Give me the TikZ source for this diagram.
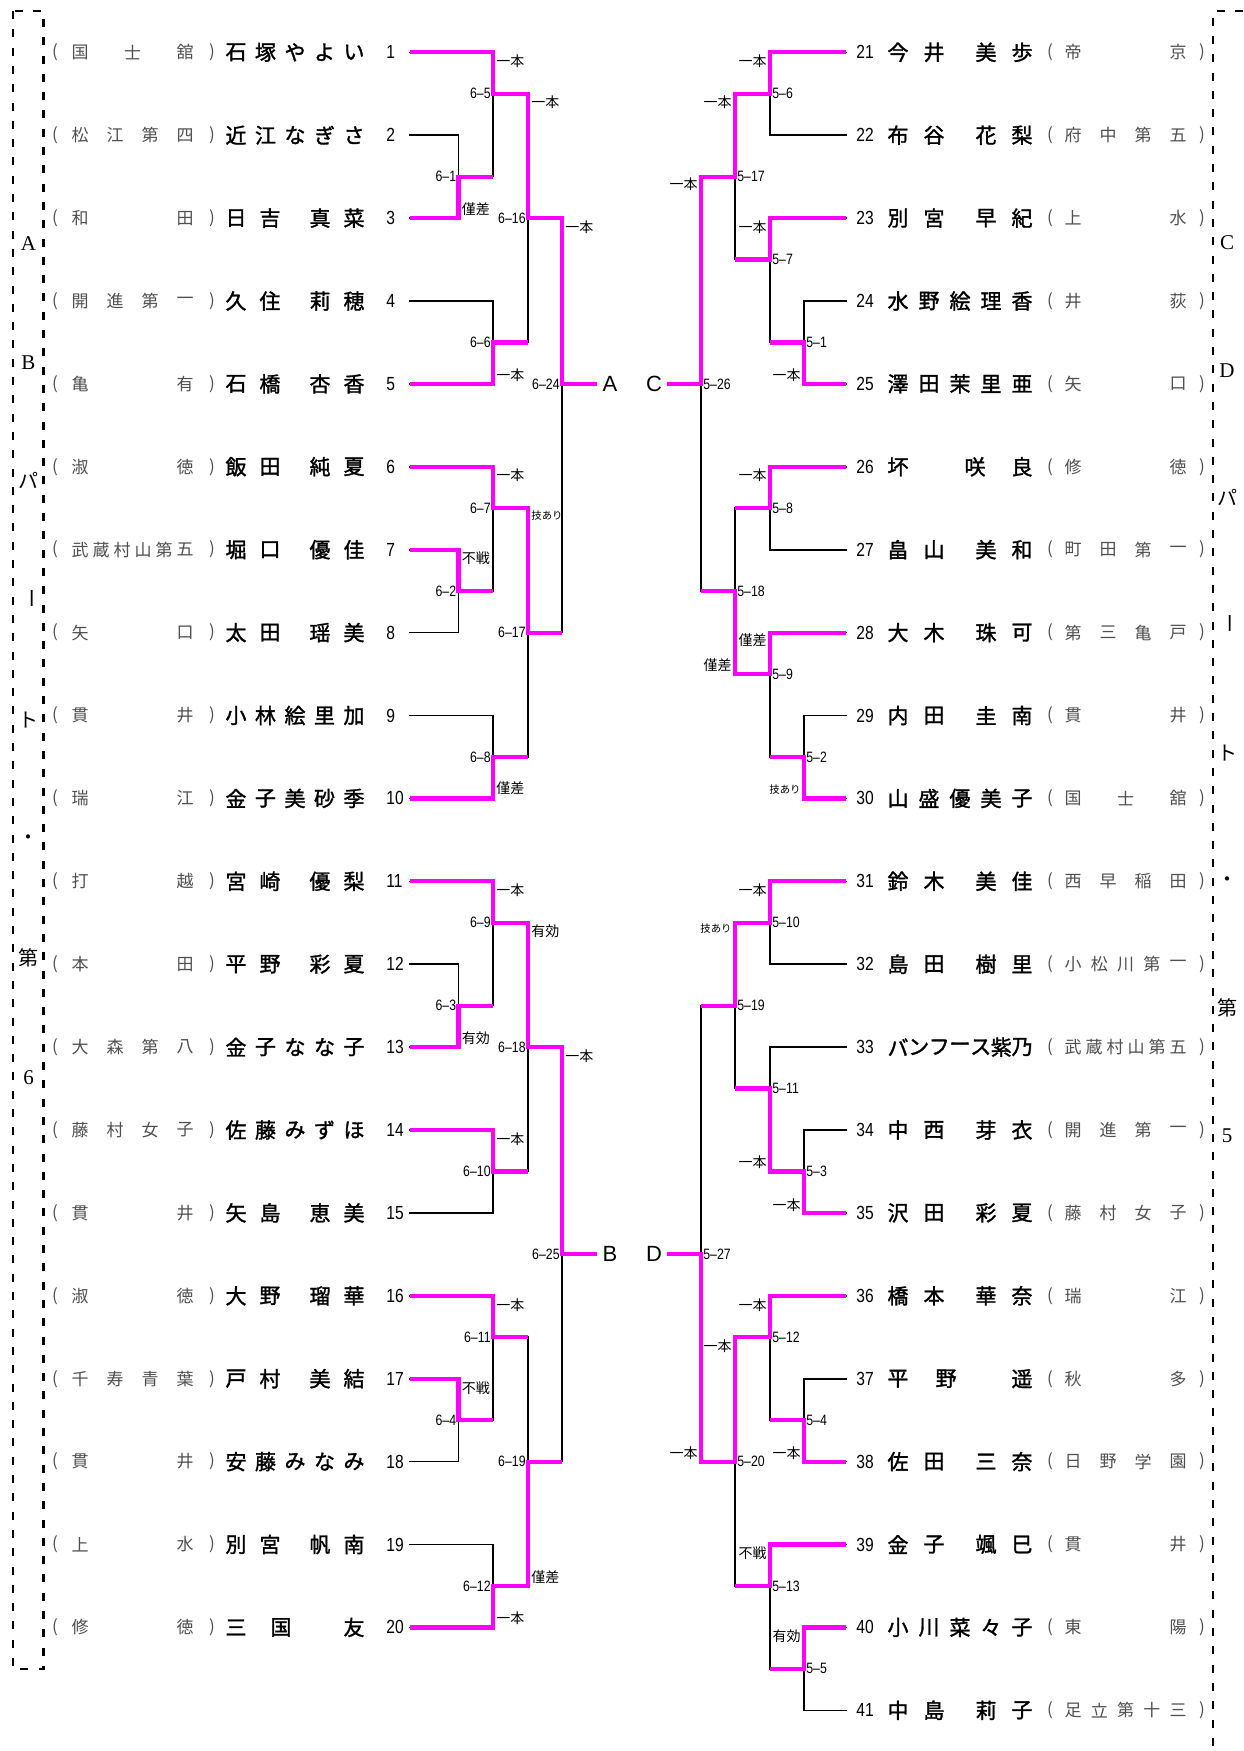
\documentclass[tikz,border=0pt]{standalone}
\usepackage{fontspec}
\newfontfamily\jp{Noto Sans CJK JP}
\newfontfamily\jpn[FakeBold=1.5]{Noto Sans CJK JP}
\newfontfamily\numf[FakeStretch=0.82]{Liberation Sans}
\newfontfamily\serf{Liberation Serif}
\newfontfamily\sansf{Liberation Sans}
\definecolor{pk}{RGB}{255,0,255}
\definecolor{sch}{RGB}{80,80,80}
\newcommand\chars[5]{\foreach \xo/\ch [count=\k] in {#5}{\node[#1] (#2-\k) at ({#3+\xo},{ry(#4)}) {\ch};}}
\def\cA{410}\def\cB{458.5}\def\cC{493}\def\cD{528}\def\cE{562}\def\cF{597}
\def\dA{846}\def\dB{804}\def\dC{770}\def\dD{735}\def\dE{701}\def\dF{667}
\begin{document}
\begin{tikzpicture}[x=0.5pt,y=-0.5pt,
  declare function={ry(\i)=52.3+(\i-1)*82.9;},
  bl/.style={line width=0.8pt,black,line cap=rect},
  pl/.style={line width=2.1pt,pk,line join=miter},
  namech/.style={font=\jpn\fontsize{10.5}{10.5}\selectfont,inner sep=0pt},
  schch/.style={font=\jp\fontsize{8.5}{8.5}\selectfont,text=sch,inner sep=0pt},
  numl/.style={font=\numf\fontsize{9.5}{9.5}\selectfont,inner sep=0pt,anchor=west},
  mlabL/.style={font=\numf\fontsize{7.5}{7.5}\selectfont,inner sep=0pt,anchor=east},
  mlabR/.style={font=\numf\fontsize{7.5}{7.5}\selectfont,inner sep=0pt,anchor=west},
  rlabL/.style={font=\jp\fontsize{7}{7}\selectfont,inner sep=0pt,anchor=west},
  rlabR/.style={font=\jp\fontsize{7}{7}\selectfont,inner sep=0pt,anchor=east},
  big/.style={font=\sansf\fontsize{11}{11}\selectfont,inner sep=0pt},
  vlab/.style={font=\serf\fontsize{10.5}{10.5}\selectfont,inner sep=0pt},
  vjp/.style={font=\jp\fontsize{10}{10}\selectfont,inner sep=0pt},
  dsh/.style={line width=1.2pt,dash pattern=on 4pt off 5.15pt}
]
\useasboundingbox (0,0) rectangle (1243,1751);
\fill[white] (0,0) rectangle (1243,1751);

% dashed frames
\draw[dsh] (13,11) rectangle (43.5,1669);
\draw[dsh] (1243,11) -- (1213,11) -- (1213,1751);

% vertical side labels
\node[vlab] (lvA) at (28.5,244) {A};
\node[vlab] (lvB) at (28.5,363) {B};
\node[vjp] (lv1) at (28.5,480) {パ};
\node[vjp,rotate=-90] (lv2) at (28.5,598) {ー};
\node[vjp] (lv3) at (28.5,720) {ト};
\node[vjp] (lv4) at (28.5,840) {・};
\node[vjp] (lv5) at (28.5,958) {第};
\node[vlab] (lv6) at (28.5,1078) {6};
\node[vlab] (rvC) at (1227,243) {C};
\node[vlab] (rvD) at (1227,371) {D};
\node[vjp] (rv1) at (1227,497) {パ};
\node[vjp,rotate=-90] (rv2) at (1227,623) {ー};
\node[vjp] (rv3) at (1227,753) {ト};
\node[vjp] (rv4) at (1227,882) {・};
\node[vjp] (rv5) at (1227,1008) {第};
\node[vlab] (rv6) at (1227,1136) {5};

% parentheses and numbers
\foreach \r in {1,...,20}{
  \node[schch] (lo\r) at (55,{ry(\r)}) {(};
  \node[schch] (lc\r) at (212,{ry(\r)}) {)};
  \node[numl] (k\r) at (386,{ry(\r)}) {\r};
}
\foreach \r in {21,...,41}{
  \node[schch] (lo\r) at (1050,{ry(\r-20)}) {(};
  \node[schch] (lc\r) at (1202,{ry(\r-20)}) {)};
  \node[numl] (k\r) at (856,{ry(\r-20)}) {\r};
}

% left schools
\chars{schch}{s1}{80}{1}{0/国,52.5/士,105/舘}
\chars{schch}{s2}{80}{2}{0/松,35/江,70/第,105/四}
\chars{schch}{s3}{80}{3}{0/和,105/田}
\chars{schch}{s4}{80}{4}{0/開,35/進,70/第,105/一}
\chars{schch}{s5}{80}{5}{0/亀,105/有}
\chars{schch}{s6}{80}{6}{0/淑,105/徳}
\chars{schch}{s7}{80}{7}{0/武,21/蔵,42/村,63/山,84/第,105/五}
\chars{schch}{s8}{80}{8}{0/矢,105/口}
\chars{schch}{s9}{80}{9}{0/貫,105/井}
\chars{schch}{s10}{80}{10}{0/瑞,105/江}
\chars{schch}{s11}{80}{11}{0/打,105/越}
\chars{schch}{s12}{80}{12}{0/本,105/田}
\chars{schch}{s13}{80}{13}{0/大,35/森,70/第,105/八}
\chars{schch}{s14}{80}{14}{0/藤,35/村,70/女,105/子}
\chars{schch}{s15}{80}{15}{0/貫,105/井}
\chars{schch}{s16}{80}{16}{0/淑,105/徳}
\chars{schch}{s17}{80}{17}{0/千,35/寿,70/青,105/葉}
\chars{schch}{s18}{80}{18}{0/貫,105/井}
\chars{schch}{s19}{80}{19}{0/上,105/水}
\chars{schch}{s20}{80}{20}{0/修,105/徳}

% left names
\chars{namech}{n1}{236}{1}{0/石,29.5/塚,59/や,88.5/よ,118/い}
\chars{namech}{n2}{236}{2}{0/近,29.5/江,59/な,88.5/ぎ,118/さ}
\chars{namech}{n3}{236}{3}{0/日,34/吉,84/真,118/菜}
\chars{namech}{n4}{236}{4}{0/久,34/住,84/莉,118/穂}
\chars{namech}{n5}{236}{5}{0/石,34/橋,84/杏,118/香}
\chars{namech}{n6}{236}{6}{0/飯,34/田,84/純,118/夏}
\chars{namech}{n7}{236}{7}{0/堀,34/口,84/優,118/佳}
\chars{namech}{n8}{236}{8}{0/太,34/田,84/瑶,118/美}
\chars{namech}{n9}{236}{9}{0/小,29.5/林,59/絵,88.5/里,118/加}
\chars{namech}{n10}{236}{10}{0/金,29.5/子,59/美,88.5/砂,118/季}
\chars{namech}{n11}{236}{11}{0/宮,34/崎,84/優,118/梨}
\chars{namech}{n12}{236}{12}{0/平,34/野,84/彩,118/夏}
\chars{namech}{n13}{236}{13}{0/金,29.5/子,59/な,88.5/な,118/子}
\chars{namech}{n14}{236}{14}{0/佐,29.5/藤,59/み,88.5/ず,118/ほ}
\chars{namech}{n15}{236}{15}{0/矢,34/島,84/恵,118/美}
\chars{namech}{n16}{236}{16}{0/大,34/野,84/瑠,118/華}
\chars{namech}{n17}{236}{17}{0/戸,34/村,84/美,118/結}
\chars{namech}{n18}{236}{18}{0/安,29.5/藤,59/み,88.5/な,118/み}
\chars{namech}{n19}{236}{19}{0/別,34/宮,84/帆,118/南}
\chars{namech}{n20}{236}{20}{0/三,45/国,118/友}

% right names
\chars{namech}{n21}{898}{1}{0/今,36/井,88/美,124/歩}
\chars{namech}{n22}{898}{2}{0/布,36/谷,88/花,124/梨}
\chars{namech}{n23}{898}{3}{0/別,36/宮,88/早,124/紀}
\chars{namech}{n24}{898}{4}{0/水,31/野,62/絵,93/理,124/香}
\chars{namech}{n25}{898}{5}{0/澤,31/田,62/茉,93/里,124/亜}
\chars{namech}{n26}{898}{6}{0/坏,77/咲,124/良}
\chars{namech}{n27}{898}{7}{0/畠,36/山,88/美,124/和}
\chars{namech}{n28}{898}{8}{0/大,36/木,88/珠,124/可}
\chars{namech}{n29}{898}{9}{0/内,36/田,88/圭,124/南}
\chars{namech}{n30}{898}{10}{0/山,31/盛,62/優,93/美,124/子}
\chars{namech}{n31}{898}{11}{0/鈴,36/木,88/美,124/佳}
\chars{namech}{n32}{898}{12}{0/島,36/田,88/樹,124/里}
\chars{namech}{n33}{898}{13}{0/バ,20.7/ン,41.3/フ,62/ー,82.7/ス,103.3/紫,124/乃}
\chars{namech}{n34}{898}{14}{0/中,36/西,88/芽,124/衣}
\chars{namech}{n35}{898}{15}{0/沢,36/田,88/彩,124/夏}
\chars{namech}{n36}{898}{16}{0/橋,36/本,88/華,124/奈}
\chars{namech}{n37}{898}{17}{0/平,48/野,124/遥}
\chars{namech}{n38}{898}{18}{0/佐,36/田,88/三,124/奈}
\chars{namech}{n39}{898}{19}{0/金,36/子,88/颯,124/巳}
\chars{namech}{n40}{898}{20}{0/小,31/川,62/菜,93/々,124/子}
\chars{namech}{n41}{898}{21}{0/中,36/島,88/莉,124/子}

% right schools
\chars{schch}{s21}{1073}{1}{0/帝,105/京}
\chars{schch}{s22}{1073}{2}{0/府,35/中,70/第,105/五}
\chars{schch}{s23}{1073}{3}{0/上,105/水}
\chars{schch}{s24}{1073}{4}{0/井,105/荻}
\chars{schch}{s25}{1073}{5}{0/矢,105/口}
\chars{schch}{s26}{1073}{6}{0/修,105/徳}
\chars{schch}{s27}{1073}{7}{0/町,35/田,70/第,105/一}
\chars{schch}{s28}{1073}{8}{0/第,35/三,70/亀,105/戸}
\chars{schch}{s29}{1073}{9}{0/貫,105/井}
\chars{schch}{s30}{1073}{10}{0/国,52.5/士,105/舘}
\chars{schch}{s31}{1073}{11}{0/西,35/早,70/稲,105/田}
\chars{schch}{s32}{1073}{12}{0/小,26.25/松,52.5/川,78.75/第,105/一}
\chars{schch}{s33}{1073}{13}{0/武,21/蔵,42/村,63/山,84/第,105/五}
\chars{schch}{s34}{1073}{14}{0/開,35/進,70/第,105/一}
\chars{schch}{s35}{1073}{15}{0/藤,35/村,70/女,105/子}
\chars{schch}{s36}{1073}{16}{0/瑞,105/江}
\chars{schch}{s37}{1073}{17}{0/秋,105/多}
\chars{schch}{s38}{1073}{18}{0/日,35/野,70/学,105/園}
\chars{schch}{s39}{1073}{19}{0/貫,105/井}
\chars{schch}{s40}{1073}{20}{0/東,105/陽}
\chars{schch}{s41}{1073}{21}{0/足,26.25/立,52.5/第,78.75/十,105/三}

% ---------- black skeleton, left ----------
\foreach \r/\x in {1/\cC,2/\cB,3/\cB,4/\cC,5/\cC,6/\cC,7/\cB,8/\cB,9/\cC,10/\cC,11/\cC,12/\cB,13/\cB,14/\cC,15/\cC,16/\cC,17/\cB,18/\cB,19/\cC,20/\cC}
  \draw[bl] (\cA,{ry(\r)}) -- (\x,{ry(\r)});
\foreach \x/\a/\b in {\cB/2/3,\cB/7/8,\cB/12/13,\cB/17/18,\cC/1/2.5,\cC/4/5,\cC/6/7.5,\cC/9/10,\cC/11/12.5,\cC/14/15,\cC/16/17.5,\cC/19/20,\cD/1.5/4.5,\cD/6.5/9.5,\cD/11.5/14.5,\cD/16.5/19.5,\cE/3/8,\cE/13/18}
  \draw[bl] (\x,{ry(\a)}) -- (\x,{ry(\b)});
% ---------- black skeleton, right ----------
\foreach \r/\x in {1/\dC,2/\dC,3/\dC,4/\dB,5/\dB,6/\dC,7/\dC,8/\dC,9/\dB,10/\dB,11/\dC,12/\dC,13/\dC,14/\dB,15/\dB,16/\dC,17/\dB,18/\dB,19/\dC,20/\dB,21/\dB}
  \draw[bl] (\dA,{ry(\r)}) -- (\x,{ry(\r)});
\foreach \x/\a/\b in {\dB/4/5,\dB/9/10,\dB/14/15,\dB/17/18,\dB/20/21,\dC/1/2,\dC/3/4.5,\dC/6/7,\dC/8/9.5,\dC/11/12,\dC/13/14.5,\dC/16/17.5,\dC/19/20.5,\dD/1.5/3.5,\dD/6.5/8.5,\dD/11.5/13.5,\dD/16.5/19.5,\dE/2.5/7.5,\dE/12.5/18}
  \draw[bl] (\x,{ry(\a)}) -- (\x,{ry(\b)});

% ---------- winners, left ----------
\draw[pl] (\cA,{ry(1)}) -- (\cC,{ry(1)}) -- (\cC,{ry(1.5)}) -- (\cD,{ry(1.5)}) -- (\cD,{ry(3)}) -- (\cE,{ry(3)}) -- (\cE,{ry(5)}) -- (\cF,{ry(5)});
\draw[pl] (\cA,{ry(3)}) -- (\cB,{ry(3)}) -- (\cB,{ry(2.5)}) -- (\cC,{ry(2.5)});
\draw[pl] (\cA,{ry(5)}) -- (\cC,{ry(5)}) -- (\cC,{ry(4.5)}) -- (\cD,{ry(4.5)});
\draw[pl] (\cA,{ry(6)}) -- (\cC,{ry(6)}) -- (\cC,{ry(6.5)}) -- (\cD,{ry(6.5)}) -- (\cD,{ry(8)}) -- (\cE,{ry(8)});
\draw[pl] (\cA,{ry(7)}) -- (\cB,{ry(7)}) -- (\cB,{ry(7.5)}) -- (\cC,{ry(7.5)});
\draw[pl] (\cA,{ry(10)}) -- (\cC,{ry(10)}) -- (\cC,{ry(9.5)}) -- (\cD,{ry(9.5)});
\draw[pl] (\cA,{ry(11)}) -- (\cC,{ry(11)}) -- (\cC,{ry(11.5)}) -- (\cD,{ry(11.5)}) -- (\cD,{ry(13)}) -- (\cE,{ry(13)}) -- (\cE,{ry(15.5)}) -- (\cF,{ry(15.5)});
\draw[pl] (\cA,{ry(13)}) -- (\cB,{ry(13)}) -- (\cB,{ry(12.5)}) -- (\cC,{ry(12.5)});
\draw[pl] (\cA,{ry(14)}) -- (\cC,{ry(14)}) -- (\cC,{ry(14.5)}) -- (\cD,{ry(14.5)});
\draw[pl] (\cA,{ry(16)}) -- (\cC,{ry(16)}) -- (\cC,{ry(16.5)}) -- (\cD,{ry(16.5)});
\draw[pl] (\cA,{ry(17)}) -- (\cB,{ry(17)}) -- (\cB,{ry(17.5)}) -- (\cC,{ry(17.5)});
\draw[pl] (\cA,{ry(20)}) -- (\cC,{ry(20)}) -- (\cC,{ry(19.5)}) -- (\cD,{ry(19.5)}) -- (\cD,{ry(18)}) -- (\cE,{ry(18)});
% ---------- winners, right ----------
\draw[pl] (\dA,{ry(1)}) -- (\dC,{ry(1)}) -- (\dC,{ry(1.5)}) -- (\dD,{ry(1.5)}) -- (\dD,{ry(2.5)}) -- (\dE,{ry(2.5)}) -- (\dE,{ry(5)}) -- (\dF,{ry(5)});
\draw[pl] (\dA,{ry(3)}) -- (\dC,{ry(3)}) -- (\dC,{ry(3.5)}) -- (\dD,{ry(3.5)});
\draw[pl] (\dA,{ry(5)}) -- (\dB,{ry(5)}) -- (\dB,{ry(4.5)}) -- (\dC,{ry(4.5)});
\draw[pl] (\dA,{ry(6)}) -- (\dC,{ry(6)}) -- (\dC,{ry(6.5)}) -- (\dD,{ry(6.5)});
\draw[pl] (\dA,{ry(8)}) -- (\dC,{ry(8)}) -- (\dC,{ry(8.5)}) -- (\dD,{ry(8.5)}) -- (\dD,{ry(7.5)}) -- (\dE,{ry(7.5)});
\draw[pl] (\dA,{ry(10)}) -- (\dB,{ry(10)}) -- (\dB,{ry(9.5)}) -- (\dC,{ry(9.5)});
\draw[pl] (\dA,{ry(11)}) -- (\dC,{ry(11)}) -- (\dC,{ry(11.5)}) -- (\dD,{ry(11.5)}) -- (\dD,{ry(12.5)}) -- (\dE,{ry(12.5)});
\draw[pl] (\dA,{ry(15)}) -- (\dB,{ry(15)}) -- (\dB,{ry(14.5)}) -- (\dC,{ry(14.5)}) -- (\dC,{ry(13.5)}) -- (\dD,{ry(13.5)});
\draw[pl] (\dA,{ry(16)}) -- (\dC,{ry(16)}) -- (\dC,{ry(16.5)}) -- (\dD,{ry(16.5)}) -- (\dD,{ry(18)}) -- (\dE,{ry(18)}) -- (\dE,{ry(15.5)}) -- (\dF,{ry(15.5)});
\draw[pl] (\dA,{ry(18)}) -- (\dB,{ry(18)}) -- (\dB,{ry(17.5)}) -- (\dC,{ry(17.5)});
\draw[pl] (\dA,{ry(19)}) -- (\dC,{ry(19)}) -- (\dC,{ry(19.5)}) -- (\dD,{ry(19.5)});
\draw[pl] (\dA,{ry(20)}) -- (\dB,{ry(20)}) -- (\dB,{ry(20.5)}) -- (\dC,{ry(20.5)});

% centre letters
\node[big] (LA) at (610,{ry(5)}) {A};
\node[big] (LB) at (610,{ry(15.5)}) {B};
\node[big] (LC) at (654,{ry(5)}) {C};
\node[big] (LD) at (654,{ry(15.5)}) {D};

% match numbers, left
\foreach \t/\x/\yy [count=\k] in {6–1/\cB/2.5,6–2/\cB/7.5,6–3/\cB/12.5,6–4/\cB/17.5,6–5/\cC/1.5,6–6/\cC/4.5,6–7/\cC/6.5,6–8/\cC/9.5,6–9/\cC/11.5,6–10/\cC/14.5,6–11/\cC/16.5,6–12/\cC/19.5,6–16/\cD/3,6–17/\cD/8,6–18/\cD/13,6–19/\cD/18,6–24/\cE/5,6–25/\cE/15.5}
  \node[mlabL] (ml\k) at ({\x-2},{ry(\yy)}) {\t};
% match numbers, right
\foreach \t/\x/\yy [count=\k] in {5–1/\dB/4.5,5–2/\dB/9.5,5–3/\dB/14.5,5–4/\dB/17.5,5–5/\dB/20.5,5–6/\dC/1.5,5–7/\dC/3.5,5–8/\dC/6.5,5–9/\dC/8.5,5–10/\dC/11.5,5–11/\dC/13.5,5–12/\dC/16.5,5–13/\dC/19.5,5–17/\dD/2.5,5–18/\dD/7.5,5–19/\dD/12.5,5–20/\dD/18,5–26/\dE/5,5–27/\dE/15.5}
  \node[mlabR] (mr\k) at ({\x+2},{ry(\yy)}) {\t};

% results, left
\foreach \t/\x/\yy [count=\k] in {一本/\cC/61,僅差/\cB/209,一本/\cD/102,一本/\cC/375,一本/\cE/227,一本/\cC/475,不戦/\cB/558,僅差/\cC/788,一本/\cC/890,有効/\cB/1038,有効/\cD/931,一本/\cC/1139,一本/\cE/1056,一本/\cC/1305,不戦/\cB/1388,僅差/\cD/1577,一本/\cC/1618}
  \node[rlabL] (rl\k) at ({\x+3},\yy) {\t};
\node[rlabL,font=\jp\fontsize{5.2}{5.2}\selectfont] (rl18) at (\cD+3,516) {技あり};
% results, right
\foreach \t/\x/\yy [count=\k] in {一本/\dC/61,一本/\dD/102,一本/\dE/184,一本/\dC/227,一本/\dB/375,一本/\dC/475,僅差/\dC/640,僅差/\dD/665,一本/\dC/890,一本/\dC/1162,一本/\dB/1205,一本/\dC/1305,一本/\dD/1346,一本/\dE/1453,一本/\dB/1453,不戦/\dC/1553,有効/\dB/1636}
  \node[rlabR] (rr\k) at ({\x-3},\yy) {\t};
\node[rlabR,font=\jp\fontsize{5.2}{5.2}\selectfont] (rr18) at (\dB-3,790) {技あり};
\node[rlabR,font=\jp\fontsize{5.2}{5.2}\selectfont] (rr19) at (\dD-3,929) {技あり};
\end{tikzpicture}
\end{document}
